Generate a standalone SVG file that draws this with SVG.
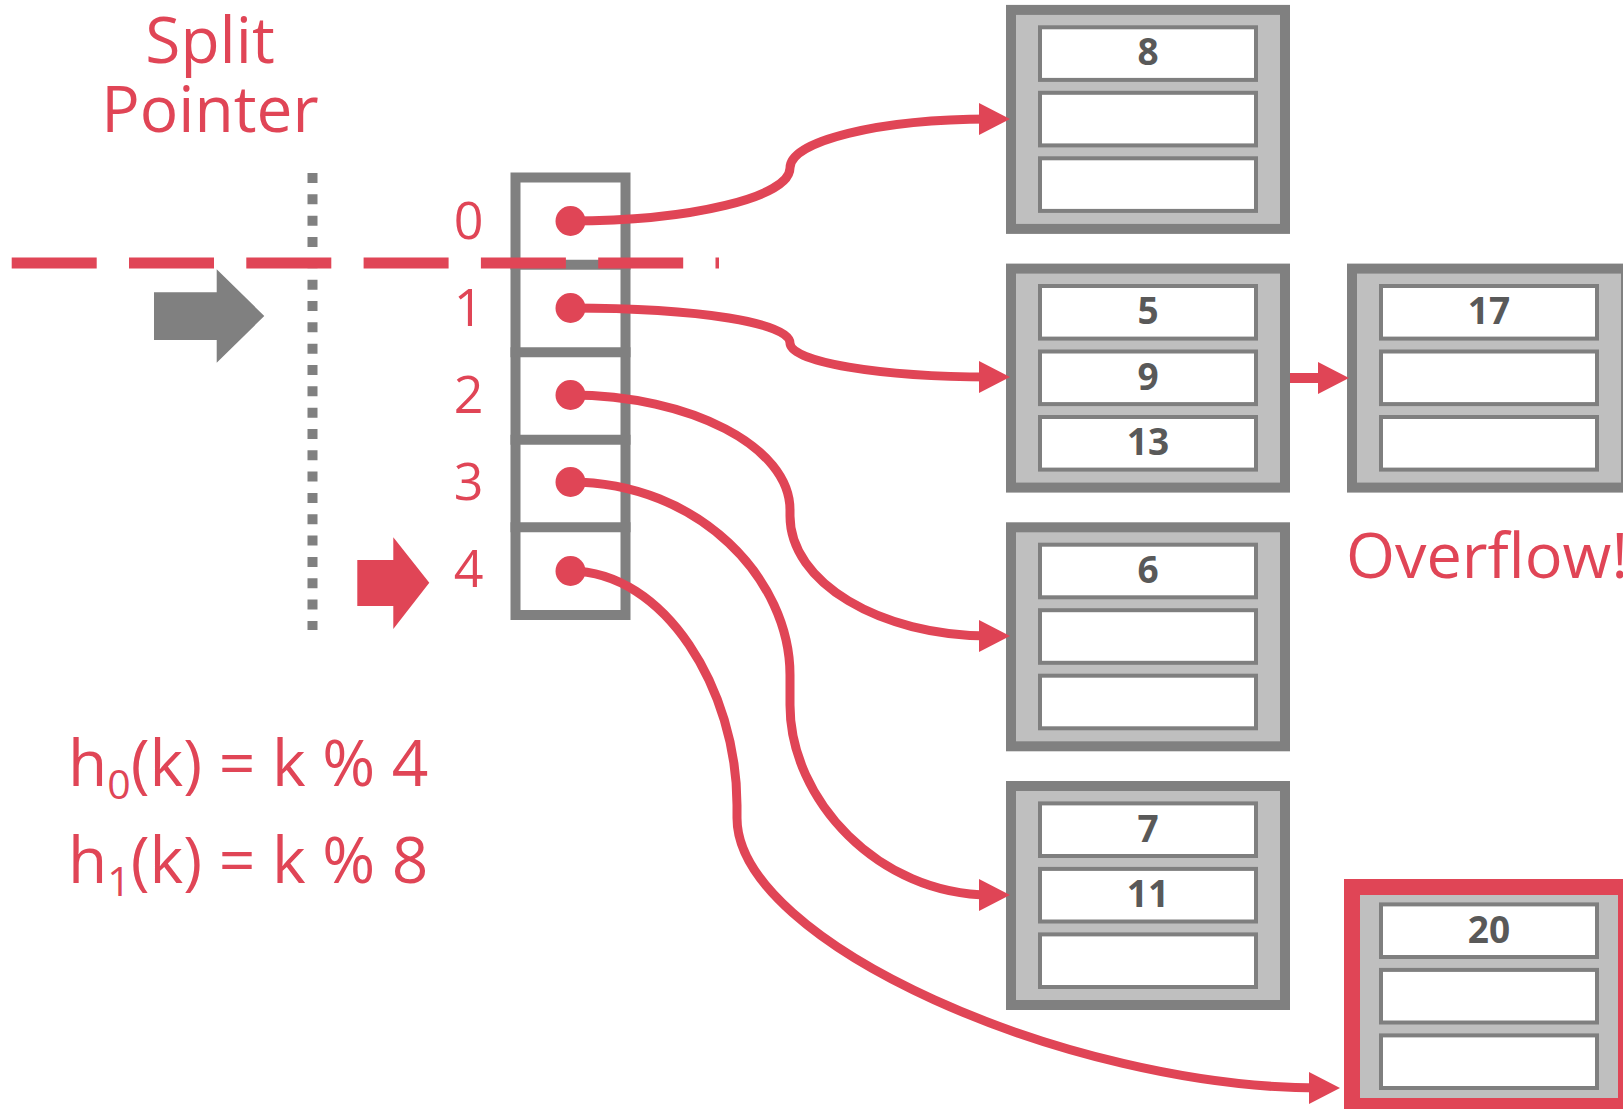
<svg xmlns="http://www.w3.org/2000/svg" width="1623" height="1109" viewBox="0 0 1623 1109">
<style>
.lbl{font-family:"Open Sans","Liberation Sans",sans-serif;fill:#e04556}
.num{font-family:"Open Sans","Liberation Sans",sans-serif;font-weight:bold;font-size:37px;fill:#595959;text-anchor:middle}
.outer{fill:#bfbfbf;stroke:#808080;stroke-width:10}
.slot{fill:#fff;stroke:#7f7f7f;stroke-width:4}
.conn{fill:none;stroke:#e04556;stroke-width:9}
.dot{fill:#e04556}
</style>
<defs>
<marker id="ah" markerUnits="userSpaceOnUse" markerWidth="31" markerHeight="32" viewBox="0 0 31 32" refX="11" refY="16" orient="auto">
<path d="M0,0 L31,16 L0,32 z" fill="#e04556"/>
</marker>
<g id="bucketBody">
<rect class="outer" x="5" y="5" width="274" height="219"/>
<rect class="slot" x="34" y="22.4" width="216" height="52.6"/>
<rect class="slot" x="34" y="87.9" width="216" height="52.6"/>
<rect class="slot" x="34" y="153.4" width="216" height="52.6"/>
</g>
</defs>

<g id="split-pointer-label">
<text class="lbl" x="210" y="63" font-size="64" text-anchor="middle">Split</text>
<text class="lbl" x="210" y="132" font-size="64" text-anchor="middle">Pointer</text>
</g>

<g id="split-line">
<line x1="312.5" y1="173" x2="312.5" y2="630" stroke="#808080" stroke-width="10" stroke-dasharray="10 11.33"/>
</g>

<g id="gray-arrow">
<polygon points="154,292.3 216.7,292.3 216.7,269.3 264.3,316 216.7,362.7 216.7,340 154,340" fill="#808080"/>
</g>

<g id="red-arrow">
<polygon points="357.3,560 393.3,560 393.3,537.3 429.3,582.7 393.3,629 393.3,606 357.3,606" fill="#e04556"/>
</g>

<g id="directory">
<rect x="515.5" y="177.5" width="110" height="437.5" fill="#fff" stroke="#808080" stroke-width="10"/>
<line x1="510.5" y1="264.8" x2="630.5" y2="264.8" stroke="#808080" stroke-width="10"/>
<line x1="510.5" y1="352.3" x2="630.5" y2="352.3" stroke="#808080" stroke-width="10"/>
<line x1="510.5" y1="439.8" x2="630.5" y2="439.8" stroke="#808080" stroke-width="10"/>
<line x1="510.5" y1="527.3" x2="630.5" y2="527.3" stroke="#808080" stroke-width="10"/>
<text class="lbl" x="468.5" y="239" font-size="52" text-anchor="middle">0</text>
<text class="lbl" x="468.5" y="326" font-size="52" text-anchor="middle">1</text>
<text class="lbl" x="468.5" y="413" font-size="52" text-anchor="middle">2</text>
<text class="lbl" x="468.5" y="500" font-size="52" text-anchor="middle">3</text>
<text class="lbl" x="468.5" y="587" font-size="52" text-anchor="middle">4</text>
</g>

<g id="hash-line">
<line x1="11.7" y1="263" x2="719" y2="263" stroke="#e04556" stroke-width="11" stroke-dasharray="85 32.3"/>
</g>

<g id="bucket-0" transform="translate(1006,4.9)">
<use href="#bucketBody"/>
<text class="num" x="142" y="60.6">8</text>
</g>
<g id="bucket-1" transform="translate(1006,263.6)">
<use href="#bucketBody"/>
<text class="num" x="142" y="60.6">5</text>
<text class="num" x="142" y="126.1">9</text>
<text class="num" x="142" y="191.6">13</text>
</g>
<g id="bucket-overflow" transform="translate(1347,263.6)">
<use href="#bucketBody"/>
<text class="num" x="142" y="60.6">17</text>
</g>
<g id="bucket-2" transform="translate(1006,522.3)">
<use href="#bucketBody"/>
<text class="num" x="142" y="60.6">6</text>
</g>
<g id="bucket-3" transform="translate(1006,781)">
<use href="#bucketBody"/>
<text class="num" x="142" y="60.6">7</text>
<text class="num" x="142" y="126.1">11</text>
</g>
<g id="bucket-4" transform="translate(1347,882)">
<use href="#bucketBody"/>
<rect x="5" y="5" width="274" height="219" fill="none" stroke="#e04556" stroke-width="16"/>
<text class="num" x="142" y="60.6">20</text>
</g>

<g id="overflow-label">
<text class="lbl" x="1346" y="578" font-size="63">Overflow!</text>
</g>

<g id="formulas">
<text class="lbl" x="68" y="786" font-size="64">h<tspan font-size="41" dy="13">0</tspan><tspan dy="-13">(k) = k % 4</tspan></text>
<text class="lbl" x="68" y="883" font-size="64">h<tspan font-size="41" dy="13">1</tspan><tspan dy="-13">(k) = k % 8</tspan></text>
</g>

<g id="connectors">
<path class="conn" marker-end="url(#ah)" d="M570,221 C691,221 790,197 790,168 C790,141 879,119 990,119"/>
<path class="conn" marker-end="url(#ah)" d="M570,308 C700,308 790,323 790,343 C790,362 880,377 990,377"/>
<path class="conn" marker-end="url(#ah)" d="M570,395 C691,395 790,447 790,510 L790,516 C790,582 879,636 990,636"/>
<path class="conn" marker-end="url(#ah)" d="M570,482 C700,482 790,580 790,675 L790,705 C790,800 879,895 990,895"/>
<path class="conn" marker-end="url(#ah)" d="M570,571 C665,571 737,690 737,805 L737,818 C737,943 1069,1088 1320,1088"/>
<path fill="none" stroke="#e04556" stroke-width="10" marker-end="url(#ah)" d="M1290,378 L1329,378"/>
<circle class="dot" cx="570.5" cy="221" r="15"/>
<circle class="dot" cx="570.5" cy="308" r="15"/>
<circle class="dot" cx="570.5" cy="395" r="15"/>
<circle class="dot" cx="570.5" cy="482" r="15"/>
<circle class="dot" cx="570.5" cy="571" r="15"/>
</g>
</svg>
